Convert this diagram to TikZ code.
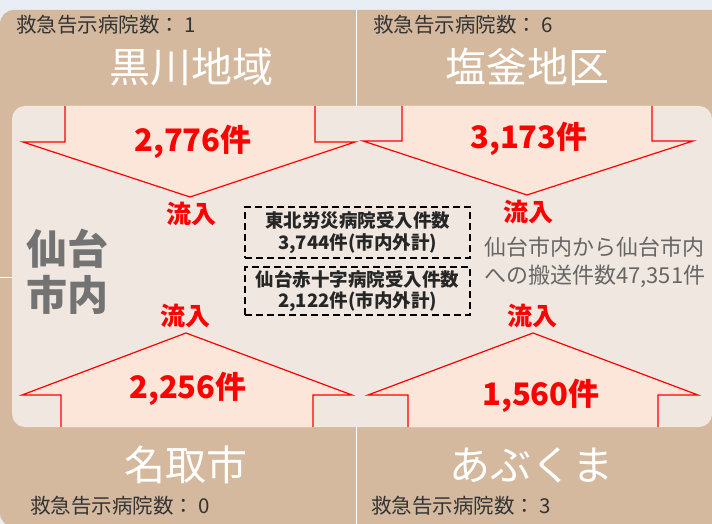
\documentclass[tikz,border=0pt]{standalone}
\usepackage{fontspec}
\setmainfont{Noto Sans CJK JP}
\definecolor{bgblue}{HTML}{E9EDF4}
\definecolor{tanc}{HTML}{D4B99E}
\definecolor{innerc}{HTML}{F0E8E0}
\definecolor{arrowc}{HTML}{FCE6DA}
\definecolor{redc}{HTML}{FF0000}
\definecolor{darkc}{HTML}{333333}
\definecolor{grayc}{HTML}{737373}
\definecolor{midgray}{HTML}{666666}
\tikzset{
  hosp/.style={anchor=west, inner sep=0pt, text=darkc, font=\fontsize{20.5}{24}\selectfont},
  region/.style={inner sep=0pt, text=white, font=\fontsize{41}{48}\selectfont},
  count/.style={inner sep=0pt, text=redc, font=\fontsize{31}{36}\selectfont\bfseries},
  inflow/.style={inner sep=0pt, text=redc, font=\fontsize{25}{30}\selectfont\bfseries},
  bigarrow/.style={fill=arrowc, draw=redc, line width=1.2pt, line join=miter},
  dashbox/.style={draw=black, dashed, dash pattern=on 7pt off 4pt, line width=1.1pt, minimum width=225pt, inner sep=0pt, align=center, text=black!85, font=\fontsize{18.5}{21.5}\selectfont\bfseries},
  note/.style={inner sep=0pt, align=left, text=midgray, font=\fontsize{22}{27.5}\selectfont},
  city/.style={inner sep=0pt, align=center, text=grayc, font=\fontsize{41}{46}\selectfont\bfseries}
}
\begin{document}
\begin{tikzpicture}[x=1pt,y=-1pt]
\useasboundingbox (0,0) rectangle (712,524);
\fill[bgblue] (0,0) rectangle (712,524);
% outer tan panel
\fill[tanc, rounded corners=14pt] (0,10) rectangle (745,527);
% white dividers
\draw[white, line width=1pt] (356,10) -- (356,106);
\draw[white, line width=1pt] (356,427) -- (356,524);
\draw[white, line width=1pt] (0,277.5) -- (12,277.5);
% inner light panel
\fill[innerc, rounded corners=13pt] (12,106) rectangle (712,427);
% arrows
\filldraw[bigarrow] (65,106) -- (65,142) -- (23,142) -- (190,197) -- (355,142) -- (315,142) -- (315,106);
\filldraw[bigarrow] (402,106) -- (402,141) -- (363,141) -- (527,195) -- (693,141) -- (652,141) -- (652,106);
\filldraw[bigarrow] (61,427) -- (61,395) -- (22,395) -- (186,333) -- (352,395) -- (313,395) -- (313,427);
\filldraw[bigarrow] (408,427) -- (408,395) -- (368,395) -- (533,333) -- (698,395) -- (658,395) -- (658,427);
% header texts
\node[hosp] (h1) at (16,25) {救急告示病院数： 1};
\node[hosp] (h6) at (373,25) {救急告示病院数： 6};
\node[region] (kuro) at (191,67) {黒川地域};
\node[region] (shio) at (527,67) {塩釜地区};
% counts
\node[count] (c1) at (193,142) {2,776件};
\node[count] (c2) at (529,139) {3,173件};
\node[count] (c3) at (188,389) {2,256件};
\node[count] (c4) at (541,396) {1,560件};
% inflow labels
\node[inflow] (f1) at (191,214) {流入};
\node[inflow] (f2) at (528,212) {流入};
\node[inflow] (f3) at (185,316) {流入};
\node[inflow] (f4) at (532,316) {流入};
% city label
\node[city] (sendai) at (68,272) {仙台\\市内};
% dashed boxes
\node[dashbox, minimum height=51pt] (tohoku) at (357.5,232.5) {東北労災病院受入件数\\3,744件(市内外計)};
\node[dashbox, minimum height=48pt] (seki) at (357.5,291) {仙台赤十字病院受入件数\\2,122件(市内外計)};
% note
\node[note, anchor=north west] (note) at (484,237) {仙台市内から仙台市内\\への搬送件数47,351件};
% bottom texts
\node[region] (natori) at (186,465) {名取市};
\node[region] (abu) at (531,465) {あぶくま};
\node[hosp] (h0) at (30,506) {救急告示病院数： 0};
\node[hosp] (h3) at (371,506) {救急告示病院数： 3};
\end{tikzpicture}
\end{document}
